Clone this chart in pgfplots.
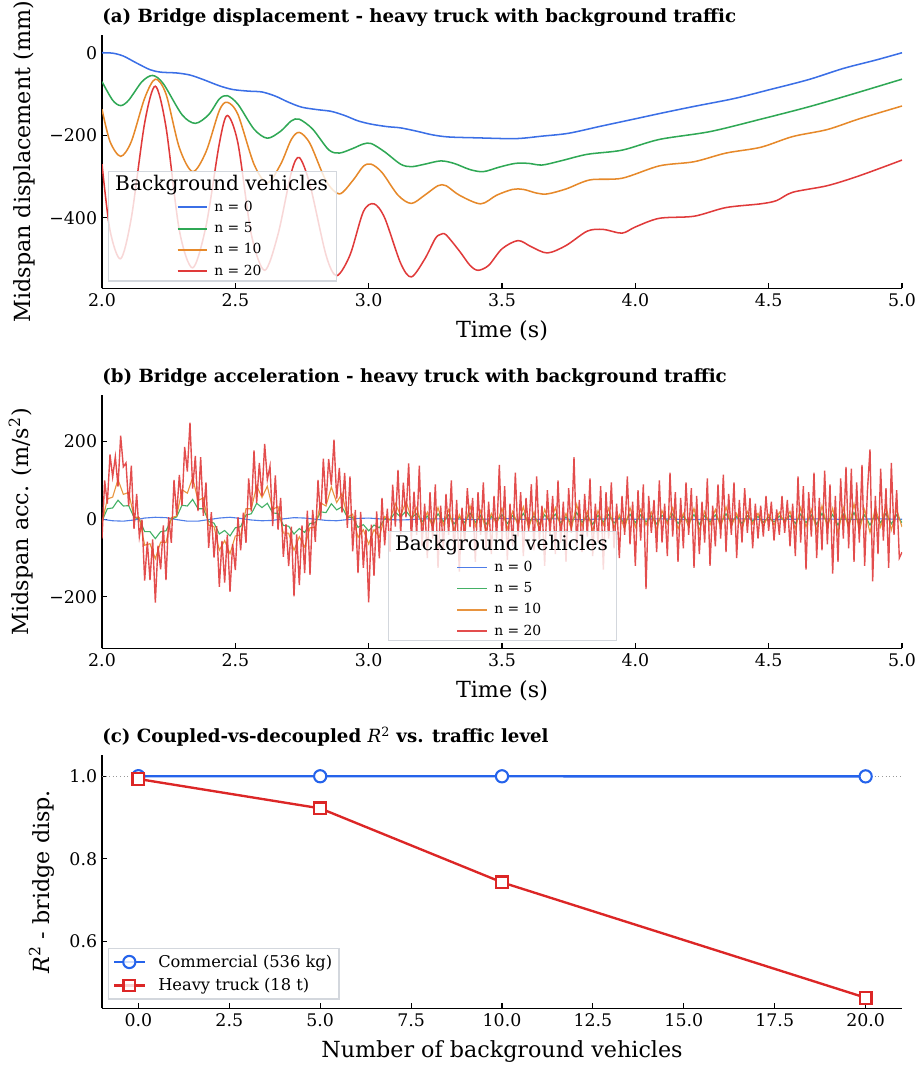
\documentclass[border=0pt]{standalone}
\usepackage{fontspec}
\setmainfont{DejaVu Serif}
\usepackage{pgfplots}
\pgfplotsset{compat=1.18}
\definecolor{cblue}{HTML}{3B6FE6}
\definecolor{cgreen}{HTML}{2FA855}
\definecolor{corange}{HTML}{E6892A}
\definecolor{cred}{HTML}{E03A3A}
\definecolor{dblue}{HTML}{2563EB}
\definecolor{dred}{HTML}{DC2626}
\definecolor{legframe}{HTML}{D3D7DD}
\pgfplotsset{
 myaxis/.style={
  scale only axis, width=576pt, height=182.5pt,
  axis x line*=bottom, axis y line*=left,
  axis line style={-, line width=0.9pt, black},
  tick align=inside, major tick length=3.6pt,
  every tick/.style={black, line width=0.8pt},
  tick label style={font=\fontsize{12.5}{15}\selectfont},
  label style={font=\fontsize{16}{19}\selectfont},
  title style={font=\bfseries\fontsize{13.1}{15}\selectfont, at={(axis description cs:0,1)}, anchor=base west, yshift=3pt, inner sep=0pt},
  /pgf/number format/assume math mode=true,
  xlabel style={at={(axis description cs:0.5,0)}, anchor=base, yshift=-35.5pt},
 },
 linelegend/.style={
  legend style={anchor=south west, draw=legframe, line width=1pt, fill=white, fill opacity=0.8, text opacity=1, font=\fontsize{10}{12}\selectfont, inner xsep=4pt, inner ysep=0.5pt, row sep=2.4pt},
  legend cell align=left,
  legend image code/.code={\path (-45pt,0pt) (24pt,0pt); \draw[##1, line width=1.45pt] (0pt,0pt) -- (21pt,0pt);},
 },
}
\begin{document}
\begin{tikzpicture}
\useasboundingbox (0,0) rectangle (661.68pt,-768.24pt);
% ---------------- (a)
\begin{axis}[myaxis, linelegend, at={(73.44pt,-25.2pt)}, anchor=north west,
 xmin=2, xmax=5, ymin=-571, ymax=43,
 xtick={2,2.5,3,3.5,4,4.5,5}, xticklabels={2.0,2.5,3.0,3.5,4.0,4.5,5.0},
 ytick={-400,-200,0}, yticklabels={−400,−200,0},
 title={(a) Bridge displacement - heavy truck with background traffic},
 xlabel={Time (s)}, ylabel={Midspan displacement (mm)},
 ylabel style={at={(axis description cs:-0.0888,0.5)}, anchor=base},
 legend style={at={(axis description cs:0.0075,0.0275)}},
]
\addlegendimage{empty legend}
\addlegendentry{\hspace*{-71.4pt}\fontsize{14.5}{17}\selectfont Background vehicles}
\addplot[cblue, line width=1.1pt, smooth, tension=0.5] coordinates {
(2.00,0) (2.04,-1) (2.08,-8) (2.13,-25) (2.18,-41) (2.22,-47) (2.28,-49) (2.33,-54) (2.38,-65) (2.44,-80) (2.49,-89) (2.55,-93) (2.60,-95) (2.65,-105) (2.70,-120) (2.75,-132) (2.81,-138) (2.86,-142) (2.91,-152) (2.96,-165) (3.01,-173) (3.07,-179) (3.12,-182) (3.18,-190) (3.24,-199) (3.30,-204) (3.40,-206) (3.55,-208) (3.65,-202) (3.75,-195) (3.87,-178) (4.00,-160) (4.10,-146) (4.22,-130) (4.37,-111) (4.50,-90) (4.65,-65) (4.78,-38) (4.90,-18) (5.00,0)};
\addlegendentry{n = 0}
\addplot[cgreen, line width=1.1pt, smooth, tension=0.5] coordinates {
(2.00,-70) (2.04,-115) (2.07,-128) (2.10,-115) (2.15,-70) (2.19,-55) (2.23,-75) (2.30,-150) (2.35,-171) (2.40,-150) (2.44,-112) (2.47,-104) (2.51,-125) (2.57,-185) (2.62,-207) (2.67,-190) (2.71,-165) (2.74,-161) (2.79,-185) (2.85,-235) (2.89,-243) (2.94,-232) (2.98,-221) (3.01,-220) (3.06,-240) (3.12,-270) (3.16,-276) (3.21,-270) (3.27,-262) (3.32,-268) (3.38,-283) (3.43,-288) (3.49,-277) (3.55,-268) (3.60,-268) (3.65,-272) (3.72,-262) (3.82,-246) (3.95,-236) (4.09,-210) (4.28,-191) (4.47,-161) (4.65,-131) (4.81,-101) (5.00,-64)};
\addlegendentry{n = 5}
\addplot[corange, line width=1.1pt, smooth, tension=0.5] coordinates {
(2.00,-137) (2.03,-215) (2.07,-251) (2.11,-215) (2.16,-110) (2.20,-64) (2.24,-100) (2.29,-230) (2.34,-288) (2.39,-240) (2.44,-140) (2.47,-120) (2.51,-150) (2.57,-270) (2.62,-315) (2.67,-270) (2.71,-210) (2.74,-193) (2.78,-220) (2.84,-310) (2.89,-342) (2.94,-310) (2.98,-275) (3.01,-270) (3.05,-290) (3.11,-345) (3.16,-365) (3.21,-345) (3.26,-322) (3.29,-322) (3.34,-345) (3.42,-366) (3.48,-345) (3.54,-331) (3.58,-331) (3.63,-340) (3.67,-342) (3.74,-330) (3.83,-308) (3.95,-304) (4.09,-274) (4.22,-264) (4.34,-243) (4.47,-229) (4.59,-203) (4.72,-186) (4.84,-160) (5.00,-129)};
\addlegendentry{n = 10}
\addplot[cred, line width=1.1pt, smooth, tension=0.5] coordinates {
(2.00,-270) (2.03,-430) (2.07,-499) (2.11,-400) (2.16,-170) (2.20,-81) (2.24,-180) (2.29,-430) (2.34,-521) (2.39,-420) (2.44,-220) (2.47,-152) (2.51,-220) (2.56,-440) (2.61,-527) (2.66,-440) (2.71,-290) (2.74,-254) (2.78,-320) (2.84,-490) (2.88,-540) (2.93,-490) (2.98,-385) (3.02,-366) (3.06,-400) (3.12,-510) (3.16,-543) (3.21,-500) (3.25,-450) (3.27,-440) (3.29,-441) (3.34,-480) (3.38,-515) (3.41,-527) (3.45,-515) (3.50,-475) (3.56,-455) (3.61,-470) (3.67,-485) (3.74,-467) (3.82,-432) (3.88,-428) (3.95,-437) (4.00,-422) (4.09,-401) (4.22,-396) (4.34,-375) (4.47,-366) (4.53,-358) (4.59,-338) (4.72,-322) (4.84,-298) (5.00,-260)};
\addlegendentry{n = 20}
\end{axis}
% ---------------- (b)
\begin{axis}[myaxis, linelegend, at={(73.44pt,-284.4pt)}, anchor=north west,
 xmin=2, xmax=5, ymin=-333, ymax=320,
 xtick={2,2.5,3,3.5,4,4.5,5}, xticklabels={2.0,2.5,3.0,3.5,4.0,4.5,5.0},
 ytick={-200,0,200}, yticklabels={−200,0,200},
 title={(b) Bridge acceleration - heavy truck with background traffic},
 xlabel={Time (s)}, ylabel={Midspan acc. (m/s\textsuperscript{2})},
 ylabel style={at={(axis description cs:-0.0915,0.5)}, anchor=base},
 legend style={at={(axis description cs:0.3575,0.0277)}},
 legend image code/.code={\path (-45pt,0pt) (24pt,0pt); \draw[#1, line width=1.05pt] (0pt,0pt) -- (21pt,0pt);},
]
\addlegendimage{empty legend}
\addlegendentry{\hspace*{-71.4pt}\fontsize{14.5}{17}\selectfont Background vehicles}
\addplot[cblue, line width=0.8pt, opacity=0.9] coordinates {
(2.00,0) (2.04,-4) (2.08,-5) (2.12,-2) (2.16,3) (2.20,5) (2.24,4) (2.28,-1) (2.32,-5) (2.36,-5) (2.40,-1) (2.44,3) (2.48,5) (2.52,2) (2.56,-2) (2.60,-4) (2.64,-3) (2.68,1) (2.72,4) (2.76,3) (2.80,0) (2.84,-3) (2.88,-4) (2.92,-1) (2.96,2) (3.00,3) (3.04,1) (3.08,-1) (3.12,-2) (3.16,-1) (3.20,1) (3.30,1) (3.40,-1) (3.50,2) (3.60,-1) (3.70,1) (3.80,-1) (3.90,1) (4.00,0) (4.10,1) (4.20,-1) (4.30,0) (4.40,1) (4.50,-1) (4.60,0) (4.70,1) (4.80,-1) (4.90,1) (5.00,0)};
\addlegendentry{n = 0}
\addplot[cgreen, line width=0.8pt, opacity=0.9] coordinates {
(2.00,-5) (2.02,27) (2.04,29) (2.06,49) (2.08,34) (2.10,35) (2.12,5) (2.14,0) (2.16,-32) (2.18,-32) (2.20,-50) (2.22,-32) (2.24,-30) (2.26,0) (2.28,6) (2.30,36) (2.32,34) (2.34,51) (2.36,27) (2.38,27) (2.40,-6) (2.42,-10) (2.44,-38) (2.46,-29) (2.48,-43) (2.50,-22) (2.52,-19) (2.54,11) (2.56,14) (2.58,41) (2.60,30) (2.62,41) (2.64,16) (2.66,15) (2.68,-16) (2.70,-18) (2.72,-38) (2.74,-24) (2.76,-34) (2.78,-11) (2.80,-9) (2.82,19) (2.84,17) (2.86,40) (2.88,24) (2.90,32) (2.92,5) (2.94,5) (2.96,-21) (2.98,-14) (3.00,-30) (3.02,-15) (3.04,-22) (3.06,2) (3.08,-1) (3.10,18) (3.12,6) (3.14,21) (3.16,4) (3.18,14) (3.20,-6)
(3.22,8) (3.24,-10) (3.26,14) (3.28,-6) (3.30,11) (3.32,-12) (3.34,5) (3.36,-9) (3.38,16) (3.40,-8)
(3.42,10) (3.44,-13) (3.46,7) (3.48,-5) (3.50,12) (3.52,-11) (3.54,9) (3.56,-7) (3.58,15) (3.60,-10)
(3.62,8) (3.64,-12) (3.66,11) (3.68,-4) (3.70,13) (3.72,-9) (3.74,6) (3.76,-11) (3.78,17) (3.80,-8)
(3.82,9) (3.84,-13) (3.86,10) (3.88,-7) (3.90,12) (3.92,-10) (3.94,5) (3.96,-11) (3.98,13) (4.00,-9)
(4.02,11) (4.04,-7) (4.06,8) (4.08,-12) (4.10,10) (4.12,-5) (4.14,13) (4.16,-11) (4.18,7) (4.20,-9)
(4.22,12) (4.24,-13) (4.26,9) (4.28,-7) (4.30,11) (4.32,-10) (4.34,14) (4.36,-8) (4.38,7) (4.40,-11)
(4.42,9) (4.44,-5) (4.46,7) (4.48,-8) (4.50,5) (4.52,-7) (4.54,8) (4.56,-4) (4.58,9) (4.60,-11)
(4.62,13) (4.64,-9) (4.66,11) (4.68,-13) (4.70,15) (4.72,-10) (4.74,12) (4.76,-15) (4.78,13) (4.80,-11)
(4.82,17) (4.84,-13) (4.86,11) (4.88,-15) (4.90,13) (4.92,-9) (4.94,15) (4.96,-12) (4.98,11) (5.00,-9)};
\addlegendentry{n = 5}
\addplot[corange, line width=0.8pt, opacity=0.9] coordinates {
(2.00,-10) (2.02,52) (2.04,57) (2.06,102) (2.08,64) (2.10,69) (2.12,6) (2.14,4) (2.16,-67) (2.18,-63) (2.20,-102) (2.22,-59) (2.24,-60) (2.26,4) (2.28,8) (2.30,76) (2.32,67) (2.34,107) (2.36,48) (2.38,55) (2.40,-16) (2.42,-19) (2.44,-80) (2.46,-55) (2.48,-89) (2.50,-43) (2.52,-41) (2.54,27) (2.56,27) (2.58,86) (2.60,56) (2.62,85) (2.64,26) (2.66,32) (2.68,-36) (2.70,-36) (2.72,-80) (2.74,-45) (2.76,-72) (2.78,-22) (2.80,-21) (2.82,42) (2.84,34) (2.86,83) (2.88,43) (2.90,66) (2.92,5) (2.94,13) (2.96,-47) (2.98,-27) (3.00,-64) (3.02,-27) (3.04,-46) (3.06,7) (3.08,-2) (3.10,41) (3.12,9) (3.14,46) (3.16,3) (3.18,30) (3.20,-16)
(3.22,18) (3.24,-22) (3.26,30) (3.28,-15) (3.30,25) (3.32,-28) (3.34,12) (3.36,-20) (3.38,35) (3.40,-18)
(3.42,22) (3.44,-30) (3.46,15) (3.48,-12) (3.50,28) (3.52,-25) (3.54,20) (3.56,-15) (3.58,32) (3.60,-22)
(3.62,18) (3.64,-28) (3.66,25) (3.68,-10) (3.70,30) (3.72,-20) (3.74,15) (3.76,-25) (3.78,38) (3.80,-18)
(3.82,20) (3.84,-30) (3.86,22) (3.88,-15) (3.90,28) (3.92,-22) (3.94,12) (3.96,-25) (3.98,30) (4.00,-20)
(4.02,25) (4.04,-15) (4.06,18) (4.08,-28) (4.10,22) (4.12,-12) (4.14,30) (4.16,-25) (4.18,15) (4.20,-20)
(4.22,28) (4.24,-30) (4.26,20) (4.28,-15) (4.30,25) (4.32,-22) (4.34,32) (4.36,-18) (4.38,15) (4.40,-25)
(4.42,20) (4.44,-12) (4.46,15) (4.48,-18) (4.50,12) (4.52,-15) (4.54,18) (4.56,-10) (4.58,20) (4.60,-25)
(4.62,30) (4.64,-20) (4.66,25) (4.68,-30) (4.70,35) (4.72,-22) (4.74,28) (4.76,-35) (4.78,30) (4.80,-25)
(4.82,40) (4.84,-30) (4.86,25) (4.88,-35) (4.90,30) (4.92,-20) (4.94,35) (4.96,-28) (4.98,25) (5.00,-20)};
\addlegendentry{n = 10}
\addplot[cred, line width=1.0pt, opacity=0.9] coordinates {
(2.00,-50) (2.01,100) (2.02,40) (2.03,167) (2.04,109) (2.05,161) (2.06,84) (2.07,215) (2.08,135) (2.09,145)
(2.10,34) (2.11,138) (2.12,-25) (2.13,65) (2.14,-45) (2.15,-1) (2.16,-158) (2.17,-58) (2.18,-157) (2.19,-52)
(2.20,-215) (2.21,-68) (2.22,-129) (2.23,-16) (2.24,-157) (2.25,5) (2.26,-61) (2.27,101) (2.28,11) (2.29,114)
(2.30,35) (2.31,186) (2.32,123) (2.33,249) (2.34,79) (2.35,163) (2.36,21) (2.37,160) (2.38,9) (2.39,95)
(2.40,-74) (2.41,18) (2.42,-99) (2.43,-18) (2.44,-174) (2.45,-56) (2.46,-163) (2.47,-40) (2.48,-187) (2.49,-64)
(2.50,-131) (2.51,5) (2.52,-80) (2.53,17) (2.54,-61) (2.55,105) (2.56,20) (2.57,177) (2.58,42) (2.59,145)
(2.60,60) (2.61,194) (2.62,102) (2.63,137) (2.64,-18) (2.65,113) (2.66,-27) (2.67,55) (2.68,-97) (2.69,-13)
(2.70,-121) (2.71,-19) (2.72,-199) (2.73,-39) (2.74,-170) (2.75,-16) (2.76,-139) (2.77,22) (2.78,-143) (2.79,24)
(2.80,-58) (2.81,101) (2.82,-1) (2.83,156) (2.84,39) (2.85,155) (2.86,88) (2.87,205) (2.88,53) (2.89,132)
(2.90,17) (2.91,119) (2.92,-22) (2.93,110) (2.94,-83) (2.95,24) (2.96,-139) (2.97,19) (2.98,-125) (2.99,-26)
(3.00,-214) (3.01,-14) (3.02,-146) (3.03,20) (3.04,-101) (3.05,55) (3.06,-67) (3.07,27) (3.08,-84) (3.09,89)
(3.10,-19) (3.11,127) (3.12,-38) (3.13,94) (3.14,5) (3.15,144) (3.16,-54) (3.17,71) (3.18,-40) (3.19,138)
(3.20,-70) (3.21,40) (3.22,-100) (3.23,70) (3.24,-50) (3.25,90) (3.26,-125) (3.27,35) (3.28,-80) (3.29,65)
(3.30,-40) (3.31,100) (3.32,-90) (3.33,50) (3.34,-135) (3.35,30) (3.36,-60) (3.37,80) (3.38,-20) (3.39,55)
(3.40,-110) (3.41,70) (3.42,-40) (3.43,95) (3.44,-75) (3.45,45) (3.46,-90) (3.47,60) (3.48,-50) (3.49,140)
(3.50,-60) (3.51,85) (3.52,-105) (3.53,40) (3.54,-70) (3.55,120) (3.56,-45) (3.57,70) (3.58,-95) (3.59,55)
(3.60,-30) (3.61,90) (3.62,-80) (3.63,110) (3.64,-55) (3.65,35) (3.66,-120) (3.67,75) (3.68,-40) (3.69,60)
(3.70,-90) (3.71,100) (3.72,-60) (3.73,45) (3.74,-110) (3.75,80) (3.76,-35) (3.77,160) (3.78,-70) (3.79,50)
(3.80,-85) (3.81,65) (3.82,-45) (3.83,105) (3.84,-95) (3.85,40) (3.86,-60) (3.87,85) (3.88,-130) (3.89,70)
(3.90,-50) (3.91,95) (3.92,-75) (3.93,40) (3.94,-100) (3.95,60) (3.96,-40) (3.97,110) (3.98,-65) (3.99,45)
(4.00,-120) (4.01,75) (4.02,-55) (4.03,90) (4.04,-180) (4.05,60) (4.06,-35) (4.07,50) (4.08,-85) (4.09,100)
(4.10,-60) (4.11,40) (4.12,-95) (4.13,120) (4.14,-45) (4.15,70) (4.16,-110) (4.17,55) (4.18,-75) (4.19,95)
(4.20,-40) (4.21,80) (4.22,-125) (4.23,60) (4.24,-90) (4.25,45) (4.26,-60) (4.27,105) (4.28,-120) (4.29,35)
(4.30,-70) (4.31,90) (4.32,-50) (4.33,115) (4.34,-85) (4.35,65) (4.36,-40) (4.37,95) (4.38,-100) (4.39,50)
(4.40,-60) (4.41,80) (4.42,-35) (4.43,55) (4.44,-75) (4.45,40) (4.46,-50) (4.47,35) (4.48,-45) (4.49,60)
(4.50,-30) (4.51,45) (4.52,-55) (4.53,25) (4.54,-40) (4.55,60) (4.56,-35) (4.57,50) (4.58,-70) (4.59,40)
(4.60,-95) (4.61,110) (4.62,-60) (4.63,85) (4.64,-130) (4.65,70) (4.66,-45) (4.67,120) (4.68,-100) (4.69,55)
(4.70,-80) (4.71,125) (4.72,-65) (4.73,90) (4.74,-140) (4.75,60) (4.76,-110) (4.77,105) (4.78,-50) (4.79,135)
(4.80,-75) (4.81,130) (4.82,-110) (4.83,95) (4.84,-60) (4.85,140) (4.86,-120) (4.87,70) (4.88,180) (4.89,-160)
(4.90,60) (4.91,-90) (4.92,130) (4.93,-55) (4.94,80) (4.95,-125) (4.96,145) (4.97,-40) (4.98,75) (4.99,-100)
(5.00,-85)};
\addlegendentry{n = 20}
\end{axis}
% ---------------- (c)
\begin{axis}[myaxis, at={(73.44pt,-543.6pt)}, anchor=north west,
 xmin=-1, xmax=21, ymin=0.438, ymax=1.051,
 xtick={0,2.5,5,7.5,10,12.5,15,17.5,20}, xticklabels={0.0,2.5,5.0,7.5,10.0,12.5,15.0,17.5,20.0},
 ytick={0.6,0.8,1.0}, yticklabels={0.6,0.8,1.0},
 title={(c) Coupled-vs-decoupled {\mdseries\itshape R}\textsuperscript{\mdseries 2} vs. traffic level},
 xlabel={Number of background vehicles}, ylabel={{\itshape R}\textsuperscript{2} - bridge disp.},
 ylabel style={at={(axis description cs:-0.066,0.5)}, anchor=base},
 legend style={at={(axis description cs:0.0075,0.035)}, anchor=south west, draw=legframe, line width=1pt, fill=white, fill opacity=0.8, text opacity=1, font=\fontsize{11.7}{14}\selectfont, inner xsep=3pt, inner ysep=2.5pt, row sep=2.5pt},
 legend cell align=left,
 legend image code/.code={\path (0pt,0pt) (29pt,0pt); \draw[mark repeat=2, mark phase=2, #1] plot coordinates {(0pt,0pt) (11pt,0pt) (22pt,0pt)};},
]
\addplot[forget plot, gray!80, dotted, line width=0.6pt] coordinates {(-1,1) (21,1)};
\addplot[dblue, line width=1.7pt, mark=*, mark size=4.4pt, mark options={fill=white, line width=1.5pt}] coordinates {(0,0.9998) (5,0.9996) (10,0.9995) (20,0.9993)};
\addlegendentry{Commercial (536 kg)}
\addplot[dred, line width=1.7pt, mark=square*, mark size=4.2pt, mark options={fill=white, line width=1.5pt}] coordinates {(0,0.993) (5,0.922) (10,0.743) (20,0.464)};
\addlegendentry{Heavy truck (18 t)}
\end{axis}
\end{tikzpicture}
\end{document}
